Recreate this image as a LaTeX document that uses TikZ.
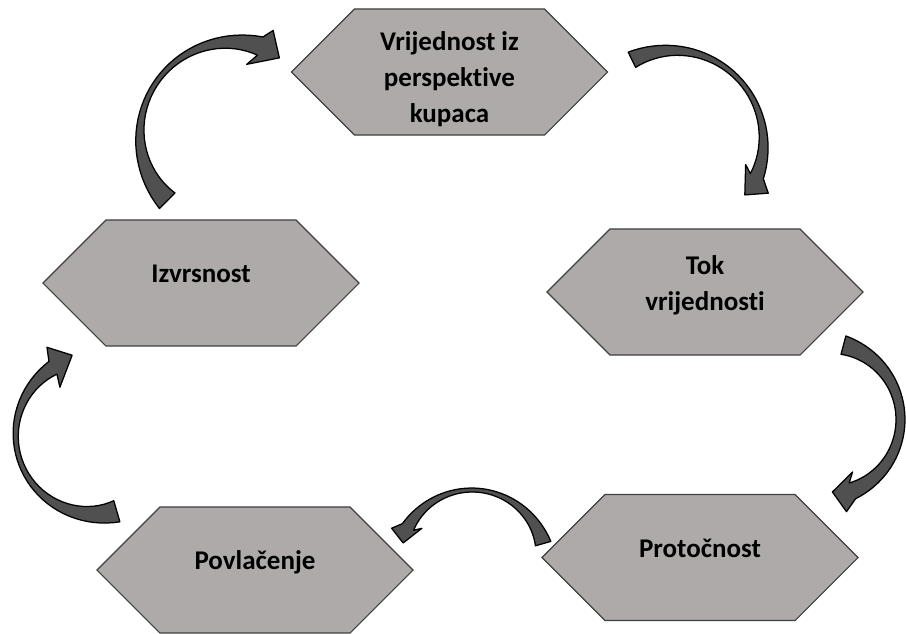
\documentclass[tikz,border=0pt]{standalone}
\usepackage{fontspec}
\setmainfont{Carlito}[Ligatures=NoCommon]
\usepackage{tikz}
\usetikzlibrary{shapes.symbols}
\definecolor{hexfill}{RGB}{174,170,170}
\definecolor{hexline}{RGB}{64,64,64}
\definecolor{arrowfill}{RGB}{80,80,80}

\tikzset{
  declare function={thk(\s,\tA,\tM,\tH)=\tA*(1-\s)^2+(4*\tM-\tA-\tH)*\s*(1-\s)+\tH*\s^2;},
  hexbox/.style={shape=signal, signal to=west and east, signal pointer angle=90,
    draw=hexline, fill=hexfill, line width=0.8pt, minimum width=7.9cm, minimum height=3.15cm,
    inner sep=2pt, align=center, font=\fontsize{19.2}{25.6}\selectfont\bfseries},
  oneline/.style={text depth=13.6pt},
  blockarrow/.style={fill=arrowfill, draw=black, line width=0.9pt, line join=round}
}

% curved block arrow: centre, radius, tail angle, head angle, widths, outer barb, tip, inner barb
\newcommand{\bandarrow}[8]{%
  \begin{scope}[shift={(#1)}]
    \filldraw[blockarrow]
      plot[domain=0:1, samples=40]
        ({(#2+thk(\x,#5)/2)*cos(#3+(#4-#3)*\x)}, {(#2+thk(\x,#5)/2)*sin(#3+(#4-#3)*\x)})
      -- (#6) -- (#7) -- (#8)
      -- plot[domain=1:0, samples=40]
        ({(#2-thk(\x,#5)/2)*cos(#3+(#4-#3)*\x)}, {(#2-thk(\x,#5)/2)*sin(#3+(#4-#3)*\x)})
      -- cycle;
  \end{scope}}

\begin{document}
\begin{tikzpicture}[x=0.025cm, y=-0.025cm]
    \useasboundingbox (0,0) rectangle (906,633);

    % Stages
    \node[hexbox] (kupci) at (449.5,72) {\rule{0pt}{23.4pt}Vrijednost iz\\perspektive\\kupaca};
    \node[hexbox] (tok) at (705,292) {Tok\\vrijednosti\rule[-13.1pt]{0pt}{0pt}};
    \node[hexbox, oneline] (protocnost) at (700,557.5) {Protočnost};
    \node[hexbox, oneline] (povlacenje) at (255,570) {Povlačenje};
    \node[hexbox, oneline] (izvrsnost) at (201,283) {Izvrsnost};

    % Arc centres
    \coordinate (toKupci) at (233,135);
    \coordinate (toTok) at (672,142);
    \coordinate (toProt) at (823.5,419.5);
    \coordinate (toPovl) at (472,564);
    \coordinate (toIzv) at (95,435);

    % Curved arrows
    \bandarrow{toKupci}{93}{135}{287}{22,5,19}{291:112}{301:90}{281:72}
    \bandarrow{toTok}{91.5}{244}{382}{17,5,14}{388:109}{396:90}{377:77}
    \bandarrow{toProt}{77}{285}{428}{19,9,17}{436:95}{443:73}{421:60}
    \bandarrow{toPovl}{74}{344}{210}{16,4,13}{204:88}{197:72}{215.5:61.5}
    \bandarrow{toIzv}{79.3}{74}{238}{22,5,15}{241.3:100}{254:83}{233.7:59.3}
\end{tikzpicture}
\end{document}
